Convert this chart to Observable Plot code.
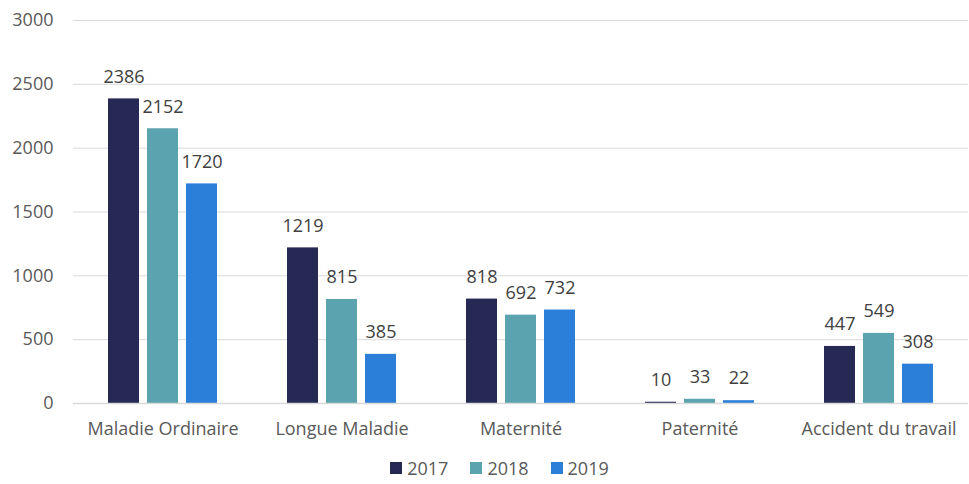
<!DOCTYPE html>
<html><head><meta charset="utf-8">
<script src="https://cdn.jsdelivr.net/npm/d3@7"></script>
<script src="https://cdn.jsdelivr.net/npm/@observablehq/plot@0.6"></script>
<style>
body{margin:0;background:#fff;font-family:"Open Sans",sans-serif;}
#legend{display:flex;justify-content:center;gap:22px;font-size:18px;line-height:24px;color:#595959;margin-top:11px;padding-left:30px}
#legend span{display:inline-flex;align-items:center;gap:5px}
#legend i{display:inline-block;width:12px;height:12px}
</style></head><body>
<div id="chart"></div>
<div id="legend"></div>
<script>
const categories = ["Maladie Ordinaire","Longue Maladie","Maternité","Paternité","Accident du travail"];
const years = ["2017","2018","2019"];
const v2017 = [2386,1219,818,10,447];
const v2018 = [2152,815,692,33,549];
const v2019 = [1720,385,732,22,308];
const colors = ["#262954","#5BA3AE","#2B7FD9"];
const yTicks = [0,500,1000,1500,2000,2500,3000];

const series = [v2017,v2018,v2019];
const data = [];
categories.forEach((c,i)=>years.forEach((y,j)=>data.push({cat:c,year:y,value:series[j][i]})));

const chart = Plot.plot({
  width:969, height:445,
  marginLeft:73, marginRight:1, marginTop:20, marginBottom:42,
  style:{fontFamily:"Open Sans, sans-serif", fontSize:"18px", color:"#595959", background:"#fff"},
  fx:{domain:categories, padding:0, label:null, axis:"bottom", tickSize:0, tickPadding:19},
  x:{domain:years, axis:null, paddingInner:0.2, paddingOuter:0.866},
  y:{domain:[0,3000], ticks:yTicks, tickFormat:d=>String(d), label:null, tickSize:0, tickPadding:20},
  color:{domain:years, range:colors},
  marks:[
    Plot.ruleY(yTicks.filter(d=>d>0), {stroke:"#d9d9d9", strokeWidth:1}),
    Plot.barY(data, {fx:"cat", x:"year", y:"value", fill:"year"}),
    Plot.ruleY([0], {stroke:"#d9d9d9", strokeWidth:1.5}),
    Plot.text(data, {fx:"cat", x:"year", y:"value", text:d=>String(d.value), dy:-22, fill:"#404040", fontSize:18})
  ]
});
chart.querySelectorAll("text").forEach(t=>{ if(!t.getAttribute("font-size")) t.style.fontSize="18px"; });
document.getElementById("chart").appendChild(chart);
const lg = document.getElementById("legend");
years.forEach((y,j)=>{
  const s=document.createElement("span");
  s.innerHTML=`<i style="background:${colors[j]}"></i>${y}`;
  lg.appendChild(s);
});
</script>
</body></html>
